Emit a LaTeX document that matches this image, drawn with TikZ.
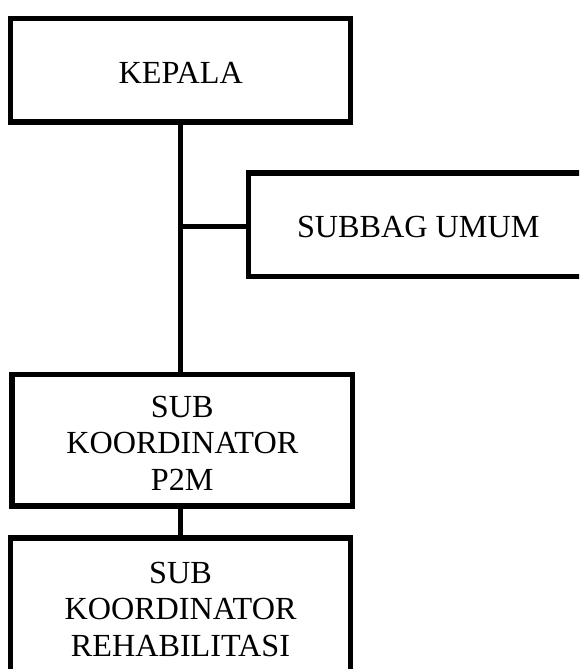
\documentclass[tikz,border=0pt]{standalone}
\usepackage{fontspec}
\setmainfont{Liberation Serif}
\begin{document}
\begin{tikzpicture}[x=1pt,y=-1pt,
  orgbox/.style={draw=black,line width=5.3pt,fill=white,rectangle,align=center,
    font=\fontsize{32.2}{36.5}\selectfont,inner sep=0pt,outer sep=0pt},
  link/.style={draw=black,line width=5.5pt}]
\useasboundingbox (0,0) rectangle (579,669);
\clip (0,0) rectangle (579,669);
\node[orgbox,minimum width=340pt,minimum height=103.3pt] (kep) at (180.75,70.35) {\rule{0pt}{25.3pt}KEPALA};
\node[orgbox,minimum width=339.5pt,minimum height=103.8pt] (sub) at (418.25,224.9) {\rule{0pt}{25.3pt}SUBBAG UMUM};
\node[orgbox,minimum width=340.5pt,minimum height=131.5pt] (p2m) at (182.25,440.25) {\rule{0pt}{27.3pt}SUB\\KOORDINATOR\\P2M};
\node[orgbox,minimum width=340.4pt,minimum height=142pt] (reh) at (180.5,609) {SUB\\KOORDINATOR\\REHABILITASI};
\coordinate (trunk) at ([xshift=-0.45pt]kep.south);
\coordinate (j) at (trunk |- 0,226.7);
\draw[link] (trunk) -- (trunk |- p2m.north);
\draw[link] (j) -- (j -| sub.west);
\draw[link] (p2m.south -| trunk) -- (trunk |- reh.north);
\end{tikzpicture}
\end{document}
